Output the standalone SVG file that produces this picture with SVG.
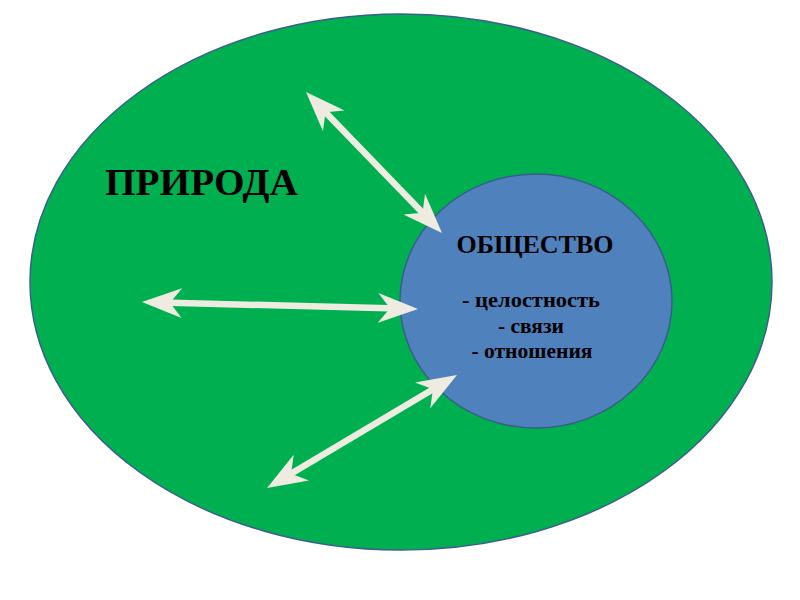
<svg xmlns="http://www.w3.org/2000/svg" width="800" height="600" viewBox="0 0 800 600">
  <style>
    .bg { fill: #ffffff; }
    .outer { fill: #00B050; stroke: #3A5F8C; stroke-width: 1.5; }
    .inner { fill: #4F81BD; stroke: #385D8A; stroke-width: 1.5; }
    .conn { stroke: #EEECE1; stroke-width: 6.5; fill: none; marker-start: url(#head); marker-end: url(#head); }
    .t { font-family: "Liberation Serif", "Times New Roman", serif; font-weight: bold; fill: #000000; }
    .b { font-size: 21px; text-anchor: middle; }
  </style>
  <defs>
    <marker id="head" markerUnits="userSpaceOnUse" viewBox="0 -16 40 32" refX="20" refY="0" markerWidth="40" markerHeight="32" orient="auto-start-reverse">
      <path d="M40,0 L0,-15 L12,0 L0,15 Z" fill="#EEECE1"/>
    </marker>
  </defs>
  <rect class="bg" x="0" y="0" width="800" height="600"/>
  <g id="priroda">
    <ellipse class="outer" cx="401" cy="282" rx="371" ry="268"/>
    <text class="t" x="105" y="195" font-size="38" textLength="193" lengthAdjust="spacingAndGlyphs">ПРИРОДА</text>
  </g>
  <g id="obshchestvo">
    <ellipse class="inner" cx="536" cy="301" rx="136" ry="127"/>
    <text class="t" x="535" y="253" font-size="26" text-anchor="middle">ОБЩЕСТВО</text>
    <text class="t b" x="531" y="307" textLength="138" lengthAdjust="spacingAndGlyphs">- целостность</text>
    <text class="t b" x="531" y="333" textLength="66" lengthAdjust="spacingAndGlyphs">- связи</text>
    <text class="t b" x="532" y="358" textLength="121" lengthAdjust="spacingAndGlyphs">- отношения</text>
  </g>
  <g id="connectors">
    <line class="conn" x1="319.9" y1="106.4" x2="428.1" y2="218.6"/>
    <line class="conn" x1="162" y1="302.5" x2="398" y2="308.5"/>
    <line class="conn" x1="439.8" y1="385.2" x2="284.2" y2="477.8"/>
  </g>
</svg>
